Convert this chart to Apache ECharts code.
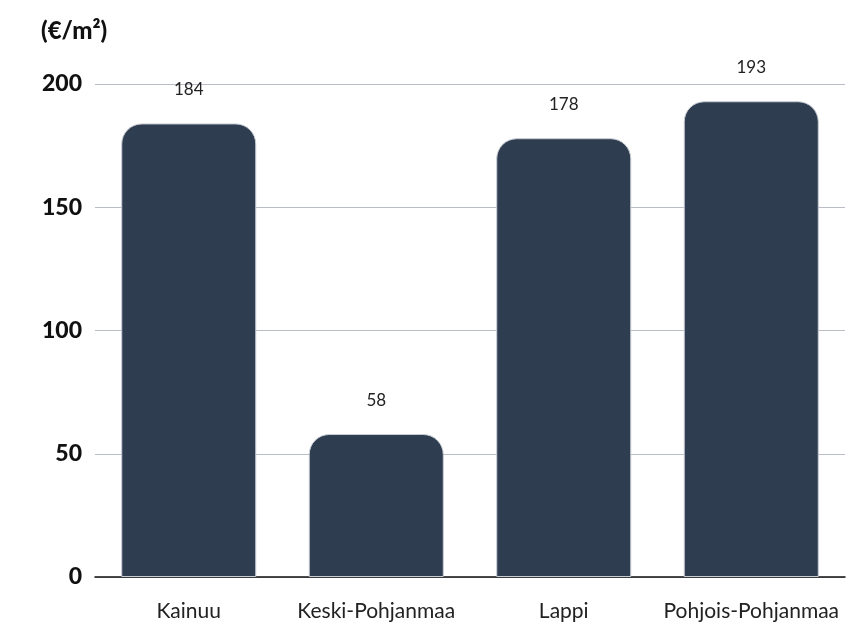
<!DOCTYPE html>
<html>
<head>
<meta charset="utf-8">
<script src="https://cdn.jsdelivr.net/npm/echarts@6/dist/echarts.min.js"></script>
<style>
  html, body { margin: 0; padding: 0; background: #fff; }
  #chart { width: 859px; height: 628px; }
</style>
</head>
<body>
<div id="chart"></div>
<script>
const regions = ["Kainuu", "Keski-Pohjanmaa", "Lappi", "Pohjois-Pohjanmaa"];
const prices = [184, 58, 178, 193];
const unitLabel = "(€/m²)";

const chart = echarts.init(document.getElementById("chart"));
chart.setOption({
  animation: false,
  title: {
    text: unitLabel,
    left: 36,
    top: 14,
    textStyle: { fontFamily: "Lato", fontWeight: 900, fontSize: 24, color: "#111" },
  },
  grid: { left: 95, right: 14, top: 84, bottom: 51 },
  xAxis: {
    type: "category",
    data: regions,
    axisTick: { show: false },
    axisLine: { lineStyle: { color: "#111", width: 1.5 } },
    axisLabel: { interval: 0, margin: 24, fontFamily: "Lato", fontSize: 21, color: "#222" },
  },
  yAxis: {
    type: "value",
    min: 0,
    max: 200,
    interval: 50,
    axisLine: { show: false },
    axisTick: { show: false },
    splitLine: { lineStyle: { color: "#b9bec6", width: 1 } },
    axisLabel: { margin: 13, fontFamily: "Lato", fontWeight: 900, fontSize: 23, color: "#111" },
  },
  series: [{
    type: "bar",
    data: prices,
    barWidth: 135,
    itemStyle: {
      color: "#2e3d50",
      borderColor: "#c8ccd3",
      borderWidth: 1,
      borderRadius: [20, 20, 0, 0],
    },
    label: {
      show: true,
      position: "top",
      distance: 25,
      fontFamily: "Lato",
      fontSize: 17,
      color: "#222",
    },
  }],
});
</script>
</body>
</html>
